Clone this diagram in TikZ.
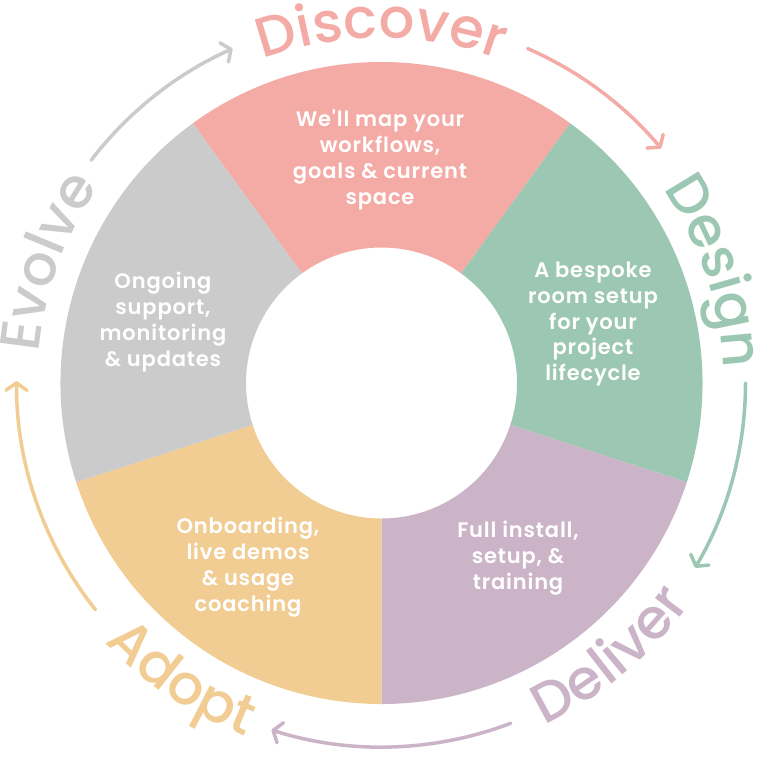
\documentclass[tikz,border=0pt]{standalone}
\usepackage{fontspec}
\setmainfont{Poppins}
\newfontfamily\segfont{Poppins SemiBold}[LetterSpace=4]
\newfontfamily\lblfont{Poppins Medium}
\usetikzlibrary{decorations.text,arrows.meta}
\definecolor{cpink}{HTML}{F4ABA6}
\definecolor{cgreen}{HTML}{9CC8B3}
\definecolor{cpurple}{HTML}{CBB4C8}
\definecolor{corange}{HTML}{F1CD93}
\definecolor{cgrey}{HTML}{CBCBCB}
\tikzset{
  segtext/.style={text=white,align=center,inner sep=0pt,
    font=\segfont\fontsize{21}{25.8}\selectfont},
  cyclearrow/.style={line width=3.5pt,line cap=round,
    -{Straight Barb[length=7.5pt,width=21pt,line cap=round,line join=round]}},
  toplabel/.style={decorate,decoration={text along path,text align=center,
    text color=#1}},
}
\newcommand{\lblfmt}{\lblfont\fontsize{56}{60}\selectfont}
\begin{document}
\begin{tikzpicture}[x=1pt,y=1pt]
\useasboundingbox (-381.5,-373) rectangle (377.5,383);
\fill[white] (-381.5,-373) rectangle (377.5,383);
\def\Ro{321}\def\Ri{135.5}
% segments
\fill[cpink]   (54:\Ro) arc[start angle=54,end angle=126,radius=\Ro] -- (126:\Ri) arc[start angle=126,end angle=54,radius=\Ri] -- cycle;
\fill[cgreen]  (-18:\Ro) arc[start angle=-18,end angle=54,radius=\Ro] -- (54:\Ri) arc[start angle=54,end angle=-18,radius=\Ri] -- cycle;
\fill[cpurple] (-90:\Ro) arc[start angle=-90,end angle=-18,radius=\Ro] -- (-18:\Ri) arc[start angle=-18,end angle=-90,radius=\Ri] -- cycle;
\fill[corange] (-162:\Ro) arc[start angle=-162,end angle=-90,radius=\Ro] -- (-90:\Ri) arc[start angle=-90,end angle=-162,radius=\Ri] -- cycle;
\fill[cgrey]   (126:\Ro) arc[start angle=126,end angle=198,radius=\Ro] -- (198:\Ri) arc[start angle=198,end angle=126,radius=\Ri] -- cycle;
% segment texts
\node[segtext] (tpink)   at (-1.5,223)    {We'll map your\\workflows,\\goals \& current\\space};
\node[segtext] (tgreen)  at (211.5,59)    {A bespoke\\room setup\\for your\\project\\lifecycle};
\node[segtext] (tpurple) at (136.5,-175)  {Full install,\\setup, \&\\training};
\node[segtext] (torange) at (-133.5,-184) {Onboarding,\\live demos\\\& usage\\coaching};
\node[segtext] (tgrey)   at (-218.5,61)   {Ongoing\\support,\\monitoring\\\& updates};
% curved labels
\path[toplabel=cpink,decoration={text={|\lblfmt|Discover}}]
  (130:345) arc[start angle=130,end angle=50,radius=345];
\path[toplabel=cgreen,decoration={text={|\lblfmt|Design}}]
  (68.5:342) arc[start angle=68.5,end angle=-31.5,radius=342];
\path[toplabel=cpurple,decoration={text={|\lblfmt|Deliver}}]
  (-100:379) arc[start angle=-100,end angle=0,radius=379];
\path[toplabel=corange,decoration={text={|\lblfmt|Adopt}}]
  (-174:379) arc[start angle=-174,end angle=-74,radius=379];
\path[toplabel=cgrey,decoration={text={|\lblfmt|Evolve}}]
  (210:344) arc[start angle=210,end angle=110,radius=344];
% arrows
\coordinate (ap1) at (66.4:365);
\coordinate (ag1) at (0:364);
\coordinate (au1) at (-69.2:364);
\coordinate (ao1) at (-141.6:365);
\coordinate (ay1) at (142.5:366);
\draw[cyclearrow,cpink]   (ap1) arc[start angle=66.4,end angle=40,radius=365];
\draw[cyclearrow,cgreen]  (ag1) arc[start angle=0,end angle=-30.5,radius=364];
\draw[cyclearrow,cpurple] (au1) arc[start angle=-69.2,end angle=-107.6,radius=364];
\draw[cyclearrow,corange] (ao1) arc[start angle=-141.6,end angle=-180.3,radius=365];
\draw[cyclearrow,cgrey]   (ay1) arc[start angle=142.5,end angle=114,radius=366];
\end{tikzpicture}
\end{document}
